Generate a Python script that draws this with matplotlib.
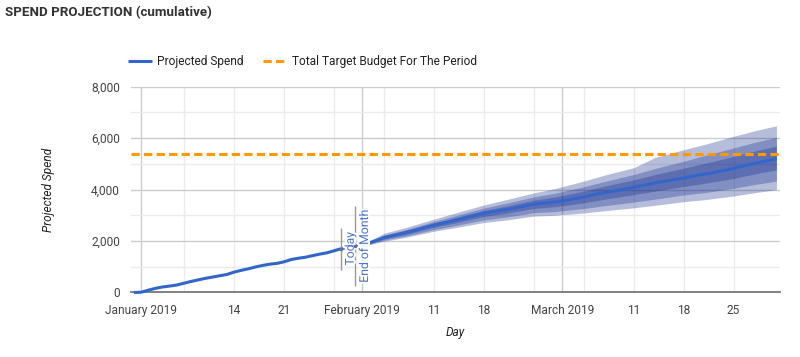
import pandas as pd
import matplotlib
matplotlib.use('Agg')
import matplotlib.pyplot as plt
import matplotlib.patheffects as pe

plt.rcParams['font.family'] = ['Roboto', 'DejaVu Sans']

# actual spend, daily up to end of January
actual_dates = pd.date_range('2018-12-31', '2019-01-31', freq='D')
actual_spend = [0, 10, 90, 160, 215, 250, 290, 360, 430, 490, 550, 600, 650, 700,
                790, 860, 920, 990, 1050, 1100, 1130, 1190, 1280, 1330, 1370, 1430,
                1490, 1540, 1620, 1700, 1760, 1800]

# projected spend
proj_dates = pd.to_datetime([
    '2019-01-31', '2019-02-02', '2019-02-04', '2019-02-06', '2019-02-08', '2019-02-11',
    '2019-02-13', '2019-02-15', '2019-02-18', '2019-02-20', '2019-02-22', '2019-02-25',
    '2019-02-27', '2019-03-01', '2019-03-04', '2019-03-06', '2019-03-08', '2019-03-11',
    '2019-03-13', '2019-03-15', '2019-03-18', '2019-03-20', '2019-03-22', '2019-03-25',
    '2019-03-27', '2019-03-29', '2019-03-31'])
proj_spend = [1800, 1930, 2130, 2260, 2390, 2620, 2740, 2880, 3080, 3170, 3260, 3430,
              3490, 3560, 3710, 3840, 3930, 4090, 4200, 4310, 4450, 4560, 4650, 4820,
              4960, 5080, 5200]

# uncertainty bands (outer / middle / inner)
band_dates = pd.to_datetime([
    '2019-01-31', '2019-02-02', '2019-02-04', '2019-02-07', '2019-02-11', '2019-02-14',
    '2019-02-18', '2019-02-21', '2019-02-25', '2019-02-28', '2019-03-04', '2019-03-07',
    '2019-03-11', '2019-03-14', '2019-03-18', '2019-03-21', '2019-03-25', '2019-03-28',
    '2019-03-31'])
outer_hi = [1800, 2010, 2300, 2520, 2850, 3090, 3400, 3600, 3870, 4040, 4330, 4570,
            4850, 5250, 5550, 5760, 6070, 6290, 6480]
outer_lo = [1800, 1860, 1990, 2140, 2380, 2520, 2720, 2810, 2970, 3000, 3090, 3180,
            3290, 3390, 3530, 3610, 3750, 3880, 4000]
mid_hi = [1800, 1980, 2235, 2440, 2760, 2980, 3280, 3460, 3715, 3860, 4110, 4320,
          4585, 4820, 5100, 5330, 5620, 5840, 6030]
mid_lo = [1800, 1880, 2040, 2190, 2445, 2600, 2820, 2925, 3100, 3145, 3265, 3375,
          3515, 3630, 3790, 3885, 4050, 4200, 4330]
inner_hi = [1800, 1955, 2185, 2380, 2695, 2900, 3190, 3345, 3590, 3715, 3940, 4140,
            4380, 4585, 4830, 5025, 5285, 5500, 5690]
inner_lo = [1800, 1910, 2085, 2255, 2535, 2705, 2955, 3070, 3265, 3335, 3485, 3630,
            3800, 3940, 4120, 4245, 4435, 4610, 4770]

target_budget = 5400

markers = [('Today', pd.Timestamp('2019-01-29'), 1700, 30),
           ('End of Month', pd.Timestamp('2019-01-31'), 1800, 58)]

month_starts = pd.to_datetime(['2019-01-01', '2019-02-01', '2019-03-01'])
week_lines = pd.to_datetime(['2019-01-07', '2019-01-14', '2019-01-21', '2019-01-28',
                             '2019-02-04', '2019-02-11', '2019-02-18', '2019-02-25',
                             '2019-03-04', '2019-03-11', '2019-03-18', '2019-03-25'])
tick_dates = pd.to_datetime(['2019-01-01', '2019-01-14', '2019-01-21', '2019-02-01',
                             '2019-02-11', '2019-02-18', '2019-03-01', '2019-03-11',
                             '2019-03-18', '2019-03-25'])
tick_labels = ['January 2019', '14', '21', 'February 2019', '11', '18',
               'March 2019', '11', '18', '25']

BLUE = '#3366cc'
ORANGE = '#ff9900'
BAND = '#0c268a'

fig = plt.figure(figsize=(8, 3.57), dpi=100)
ax = fig.add_axes([0.16375, 0.1807, 0.81125, 0.5765])

# grid
for d in week_lines:
    ax.axvline(d, color='#ebebeb', lw=1, zorder=0)
for d in month_starts:
    ax.axvline(d, color='#cccccc', lw=1, zorder=0)
ax.set_ylim(0, 8000)
ax.set_yticks(range(0, 8001, 2000))
ax.set_yticks(range(1000, 8000, 2000), minor=True)
ax.yaxis.grid(True, which='major', color='#cccccc', lw=1, zorder=0)
ax.yaxis.grid(True, which='minor', color='#ebebeb', lw=1, zorder=0)
ax.set_axisbelow(True)

# bands
for lo, hi in [(outer_lo, outer_hi), (mid_lo, mid_hi), (inner_lo, inner_hi)]:
    ax.fill_between(band_dates, lo, hi, color=BAND, alpha=0.3, lw=0, zorder=1)

ax.axhline(target_budget, color=ORANGE, lw=2.2, dashes=(2.7, 1.4), zorder=2,
           label='Total Target Budget For The Period')
ax.plot(actual_dates, actual_spend, color=BLUE, lw=2.2, zorder=4,
        solid_capstyle='butt', clip_on=False, label='Projected Spend')
ax.plot(proj_dates, proj_spend, color=BLUE, lw=2.2, zorder=4, solid_capstyle='butt')

halo = [pe.withStroke(linewidth=3, foreground='white')]
for label, d, v, size in markers:
    ax.plot(d, v, marker='|', ms=size, mew=1, color='#999999', zorder=5)
    ax.annotate(label, xy=(d, v), xytext=(2, 0), textcoords='offset points',
                rotation=90, ha='left', va='center', fontsize=8.8, color='#4a72d4',
                path_effects=halo, zorder=6)
    ax.plot(d, v, marker='o', ms=2.5, color='#5f6f99', mew=0, zorder=7)

ax.set_xlim(pd.Timestamp('2019-01-01') - pd.Timedelta(hours=34),
            pd.Timestamp('2019-01-01') + pd.Timedelta(hours=89.5 * 24))
ax.set_xticks(tick_dates)
ax.set_xticklabels(tick_labels)
ax.yaxis.set_major_formatter(matplotlib.ticker.FuncFormatter(lambda v, p: f'{int(v):,}'))
ax.tick_params(axis='both', which='both', length=0, labelsize=8.6, colors='#444444')
ax.tick_params(axis='x', pad=8)
ax.tick_params(axis='y', pad=8)

for s in ['top', 'right', 'left']:
    ax.spines[s].set_visible(False)
ax.spines['bottom'].set_color('#777777')
ax.spines['bottom'].set_linewidth(1.3)
ax.spines['bottom'].set_zorder(3)

ax.set_ylabel('Projected Spend', fontsize=8.6, style='italic', color='#222222', labelpad=26)
ax.set_xlabel('Day', fontsize=8.6, style='italic', color='#222222', labelpad=7)

fig.text(5 / 800, 1 - 13 / 357, 'SPEND PROJECTION (cumulative)', fontsize=9.6,
         fontweight='bold', color='#333333', va='center', ha='left')

handles, labels = ax.get_legend_handles_labels()
order = [labels.index('Projected Spend'), labels.index('Total Target Budget For The Period')]
fig.legend([handles[i] for i in order], [labels[i] for i in order],
           loc='center left', bbox_to_anchor=(128 / 800, 1 - 62 / 357), ncol=2,
           frameon=False, fontsize=8.6, handlelength=2.0, handletextpad=0.45,
           columnspacing=1.6, borderpad=0, borderaxespad=0, labelcolor='#222222')

fig.savefig('out.png', dpi=100)
